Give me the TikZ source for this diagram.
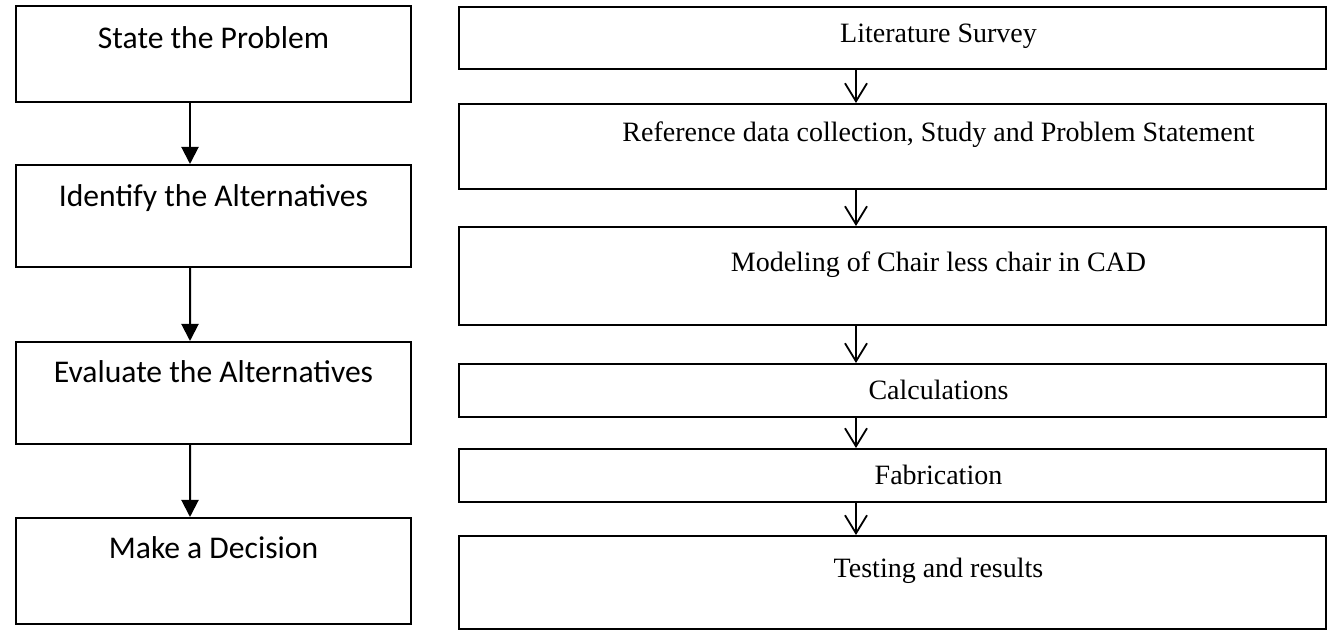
\documentclass[tikz,border=0pt]{standalone}
\usepackage{fontspec}
\setmainfont{Liberation Serif}
\newfontfamily\calibri{Carlito}
\usetikzlibrary{arrows.meta}
\tikzset{
  stepnode/.style = {draw=black, line width=1pt, inner sep=0pt, anchor=center},
  lbox/.style 2 args = {stepnode, minimum width=197.5pt, font=\calibri\fontsize{15.8}{18}\selectfont, text height=#1, text depth=#2},
  rbox/.style 2 args = {stepnode, minimum width=433.5pt, font=\fontsize{14}{17}\selectfont, text height=#1, text depth=#2, execute at begin node={\hspace*{46pt}}},
  lflow/.style = {edge from parent/.style={draw, line width=1pt, -{Triangle[width=8.5pt,length=8.5pt]}},
    edge from parent path={([xshift=-11.75pt]\tikzparentnode.south) -- ([xshift=-11.75pt]\tikzchildnode.north)}},
  rflow/.style = {edge from parent/.style={draw, line width=0.9pt, -{Straight Barb[width=11pt,length=9pt]}},
    edge from parent path={([xshift=-18.25pt]\tikzparentnode.south) -- ([xshift=-18.25pt]\tikzchildnode.north)}}
}

\begin{document}
\begin{tikzpicture}
	\useasboundingbox (0,0) rectangle (664.5pt,-315pt);
	% decision steps
	\begin{scope}[lflow]
	\node [lbox={21.5pt}{26.5pt}] (state) at (106.75pt,-27pt) {State the Problem}
		child[level distance=81pt]{ node [lbox={21pt}{30pt}] (identify) {Identify the Alternatives}
			child[level distance=88.5pt]{ node [lbox={20.5pt}{30.5pt}] (evaluate) {Evaluate the Alternatives}
				child[level distance=89pt]{ node [lbox={20.5pt}{32.5pt}] (decide) {Make a Decision}}
			}
		};
	\end{scope}
	% project steps
	\begin{scope}[rflow]
	\node [rbox={18pt}{13pt}] (survey) at (446.25pt,-19pt) {Literature Survey}
		child[level distance=54.25pt]{ node [rbox={19pt}{23.5pt}] (refdata) {Reference data collection, Study and Problem Statement}
			child[level distance=64.75pt]{ node [rbox={22.5pt}{26.5pt}] (modeling) {Modeling of Chair less chair in CAD}
				child[level distance=57.25pt]{ node [rbox={18pt}{8.5pt}] (calc) {Calculations}
					child[level distance=42.5pt]{ node [rbox={18pt}{8.5pt}] (fab) {Fabrication}
						child[level distance=53.5pt]{ node [rbox={21pt}{25.5pt}] (testing) {Testing and results}}
					}
				}
			}
		};
	\end{scope}
\end{tikzpicture}
\end{document}
